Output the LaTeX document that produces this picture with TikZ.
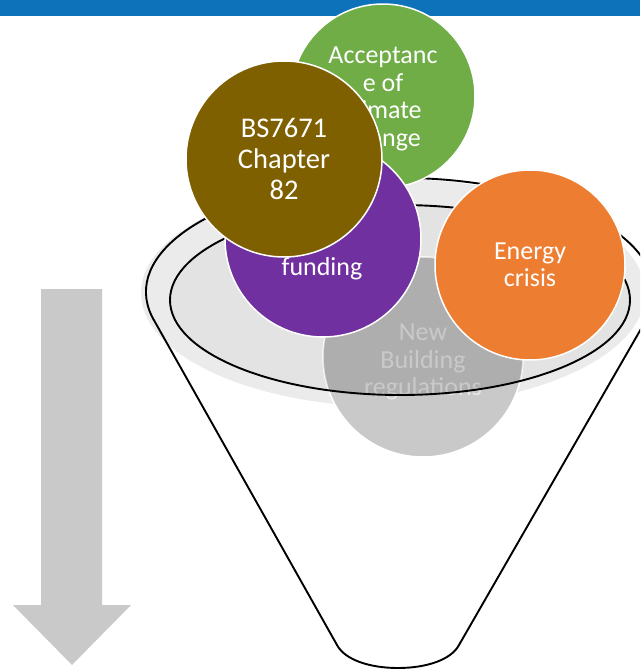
\documentclass[tikz,border=0pt]{standalone}
\usepackage{fontspec}
\setmainfont{Carlito}
\definecolor{bandblue}{HTML}{0E72BA}
\definecolor{leafgreen}{HTML}{70AD47}
\definecolor{umber}{HTML}{7F6000}
\definecolor{violet}{HTML}{7030A0}
\definecolor{amber}{HTML}{ED7D31}
\definecolor{stone}{HTML}{C9C9C9}
\definecolor{mist}{HTML}{EBEBEB}
\definecolor{mouthgray}{HTML}{E3E3E3}
\definecolor{paletext}{HTML}{E8E8E8}
\tikzset{
  bubble/.style={circle, draw=white, line width=1.5pt, inner sep=0pt,
    text=white, align=center, font=\fontsize{26}{27.5}\selectfont},
  caption/.style={text=white, align=center, inner sep=0pt,
    font=\fontsize{26}{27.5}\selectfont},
  rim/.style={draw=black, line width=1.9pt},
}
\begin{document}
\begin{tikzpicture}[x=1pt, y=-1pt]
  \useasboundingbox (0,0) rectangle (640,672);
  \clip (0,0) rectangle (640,672);

  % header band
  \fill[bandblue] (0,0) rectangle (640,16);

  % downward arrow
  \fill[stone] (41,289) -- (102,289) -- (102,605) -- (131,605) -- (72,665)
    -- (13,605) -- (41,605) -- cycle;

  % funnel: soft rim and body outline
  \fill[mist] (393,293) ellipse [x radius=252pt, y radius=114pt];
  \draw[rim, line join=round]
    (337,645) -- (155,322)
    arc [start angle=195.3, end angle=-15.3, x radius=254pt, y radius=114pt]
    -- (459,645)
    .. controls (451,660) and (426,668) .. (398,668)
    .. controls (370,668) and (345,660) .. (337,645);

  % funnel mouth
  \fill[mouthgray] (400,300) ellipse [x radius=230pt, y radius=95pt];

  % bubble sinking into the funnel mouth
  \node[bubble, fill=stone, minimum size=200pt] (regs) at (423,357) {};
  \node[caption, text=paletext] (regstxt) at (423,362) {New\\Building\\regulations};
  % the mouth shades the part of the bubble inside it
  \begin{scope}
    \clip (400,300) ellipse [x radius=230pt, y radius=95pt];
    \fill[black, fill opacity=0.13] (regs.center) circle [radius=100pt];
  \end{scope}
  \draw[rim] (400,300) ellipse [x radius=230pt, y radius=95pt];

  % bubbles above the funnel
  \node[bubble, fill=leafgreen, minimum size=184pt] (climate) at (383,96) {};
  \node[caption] (climatetxt) at (383,99) {Acceptanc\\e of\\climate\\change};
  \node[bubble, fill=violet, minimum size=196pt] (funds) at (323,239) {};
  \node[caption] (fundtxt) at (322,269) {funding};
  \node[bubble, fill=umber, minimum size=196pt, font=\fontsize{28.5}{31}\selectfont] (bs) at (284,159)
    {BS7671\\Chapter\\82};
  \node[bubble, fill=amber, minimum size=190pt] (energy) at (530,265)
    {Energy\\crisis};
\end{tikzpicture}
\end{document}
